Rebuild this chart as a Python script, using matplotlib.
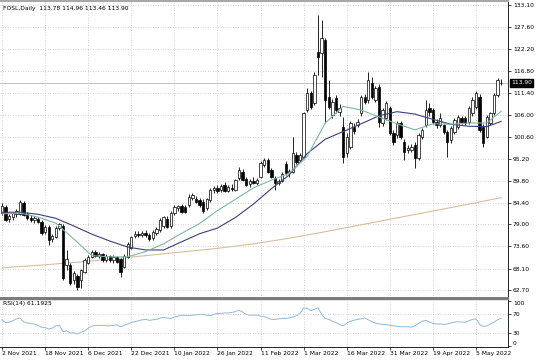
import matplotlib
matplotlib.use("Agg")
import matplotlib.pyplot as plt
from matplotlib.transforms import blended_transform_factory

# FOSL daily bars
opens = [81.7, 83.2, 80.3, 80.8, 81.5, 81.6, 84.3, 81.5, 80.7, 80.1,
         80.4, 79.7, 77.1, 78.4, 75.3, 76.0, 78.0, 78.6, 69.0, 69.0,
         65.3, 66.2, 65.3, 67.3, 69.6, 71.0, 72.1, 71.3, 71.6, 70.2,
         71.1, 70.1, 71.0, 70.4, 68.6, 71.0, 73.2, 76.1, 76.6, 76.4,
         76.9, 76.5, 75.6, 76.9, 77.6, 78.6, 80.3, 78.7, 81.7, 83.1,
         83.6, 83.4, 83.8, 85.6, 85.3, 85.0, 84.6, 83.0, 85.0, 87.5,
         88.0, 87.4, 88.8, 87.3, 88.0, 87.6, 90.4, 91.8, 90.2, 88.9,
         89.6, 89.3, 90.8, 93.6, 94.9, 92.4, 90.4, 89.3, 89.8, 93.8,
         91.6, 92.0, 96.2, 94.9, 95.7, 107.2, 111.3, 108.9, 121.6, 121.2,
         124.5, 110.5, 106.0, 110.1, 106.6, 103.0, 96.5, 98.2, 103.1, 103.5,
         106.4, 110.5, 109.7, 113.8, 109.7, 113.0, 103.9, 105.2, 107.6, 101.5,
         101.0, 103.9, 99.4, 97.3, 97.4, 98.6, 95.3, 100.6, 103.5, 107.6,
         107.2, 104.3, 103.5, 103.4, 101.9, 99.8, 101.9, 103.1, 105.2, 105.2,
         104.3, 106.4, 108.0, 110.5, 103.1, 100.6, 103.9, 106.4, 110.9, 113.78]
highs = [84.2, 83.8, 81.6, 82.1, 82.7, 85.0, 84.8, 82.0, 81.3, 81.0,
         80.9, 80.2, 78.8, 78.8, 76.6, 78.6, 79.4, 79.2, 72.7, 69.6,
         67.4, 66.8, 68.0, 70.6, 71.4, 72.8, 72.6, 72.2, 72.0, 71.6,
         71.5, 71.4, 71.3, 70.8, 71.6, 74.6, 76.2, 77.3, 77.4, 77.4,
         77.5, 77.0, 77.6, 78.3, 80.5, 81.1, 81.0, 82.3, 83.7, 83.9,
         84.1, 83.9, 86.4, 86.7, 85.9, 85.6, 85.2, 85.6, 88.0, 88.4,
         88.6, 89.0, 89.4, 88.8, 88.9, 90.2, 93.2, 92.6, 90.6, 90.2,
         90.6, 90.4, 94.6, 95.4, 95.3, 92.8, 90.9, 90.2, 91.9, 94.6,
         92.6, 100.6, 96.8, 96.6, 106.8, 112.6, 111.8, 116.7, 130.6, 129.4,
         125.0, 114.6, 110.0, 110.8, 108.6, 105.5, 101.5, 104.6, 104.0, 105.0,
         111.0, 111.2, 116.7, 115.4, 113.2, 113.6, 107.6, 109.5, 108.3, 102.3,
         104.6, 104.5, 100.0, 98.5, 98.8, 99.2, 101.5, 102.8, 109.7, 109.0,
         107.8, 105.0, 106.4, 103.8, 102.3, 103.2, 105.3, 106.0, 105.8, 105.8,
         108.2, 110.3, 111.8, 111.2, 103.8, 106.0, 106.8, 111.4, 115.0, 114.96]
lows = [81.3, 79.8, 79.5, 80.2, 80.9, 81.2, 81.0, 80.2, 79.6, 79.4,
        79.3, 76.4, 76.7, 73.9, 74.6, 75.6, 77.6, 65.3, 67.7, 64.0,
        64.2, 62.8, 63.3, 67.0, 69.2, 70.6, 70.9, 70.6, 69.7, 69.8,
        69.8, 69.5, 69.5, 66.1, 68.2, 70.6, 72.9, 75.6, 76.0, 75.8,
        76.0, 75.0, 75.2, 76.4, 77.2, 78.2, 78.0, 78.2, 81.3, 82.3,
        81.8, 81.7, 83.4, 85.0, 84.2, 83.3, 81.7, 82.6, 84.6, 86.8,
        86.8, 87.0, 86.9, 86.9, 87.2, 87.2, 90.0, 89.6, 88.4, 88.2,
        89.0, 88.7, 90.4, 93.2, 91.7, 90.4, 87.5, 88.6, 89.4, 91.2,
        90.8, 91.6, 93.8, 94.4, 95.3, 106.6, 107.5, 108.4, 115.8, 115.4,
        103.9, 107.5, 105.2, 106.5, 105.8, 94.1, 95.5, 97.5, 101.4, 103.0,
        105.8, 108.6, 109.0, 110.0, 109.2, 103.0, 103.2, 104.8, 101.0, 98.6,
        100.2, 100.0, 94.9, 96.5, 96.9, 92.8, 94.8, 100.0, 103.0, 105.8,
        103.8, 102.8, 103.0, 101.4, 95.7, 99.0, 101.4, 102.6, 103.8, 103.4,
        103.8, 105.8, 107.5, 101.8, 98.2, 100.2, 103.4, 106.0, 110.4, 113.46]
closes = [83.6, 80.1, 81.0, 81.7, 82.2, 84.6, 81.4, 80.6, 80.2, 80.6,
          79.7, 76.8, 78.3, 75.1, 76.1, 78.2, 79.0, 65.8, 70.4, 64.5,
          66.9, 63.6, 67.7, 70.2, 71.0, 72.2, 71.3, 71.8, 70.2, 71.1,
          70.1, 71.0, 69.8, 67.3, 71.3, 74.2, 75.9, 76.6, 76.3, 77.0,
          76.3, 75.4, 77.2, 77.9, 80.1, 80.8, 78.4, 81.9, 83.3, 83.5,
          82.1, 82.1, 85.8, 86.3, 84.6, 83.8, 82.2, 85.2, 87.5, 87.9,
          87.3, 88.4, 87.3, 88.2, 87.7, 89.9, 92.4, 89.9, 88.7, 89.6,
          89.3, 90.0, 94.1, 94.9, 92.0, 90.8, 89.2, 89.8, 91.5, 91.6,
          92.2, 96.5, 94.5, 96.1, 106.4, 111.3, 108.0, 115.8, 120.4, 124.9,
          109.7, 108.0, 109.3, 107.2, 107.8, 95.7, 100.6, 103.9, 102.0, 104.3,
          110.5, 109.3, 114.6, 110.5, 112.6, 104.2, 107.2, 108.9, 101.5, 99.4,
          103.9, 100.6, 96.9, 97.8, 98.2, 95.3, 101.0, 102.3, 107.2, 106.8,
          104.3, 103.5, 105.2, 101.9, 99.4, 102.7, 104.7, 105.5, 104.3, 103.9,
          107.6, 109.7, 111.3, 102.3, 99.0, 105.5, 106.4, 110.9, 114.6, 113.90]

# moving averages as drawn, sampled every 5 bars (+ last bar)
ma_bars = [0, 5, 10, 15, 20, 25, 30, 35, 40, 45, 50, 55, 60, 65, 70,
           75, 80, 85, 90, 95, 100, 105, 110, 115, 120, 125, 130, 135, 139]
ma_fast = [81.6, 81.8, 80.8, 79.3, 75.4, 71.3, 71.0, 71.0, 72.3, 74.2,
           76.8, 79.2, 82.4, 85.2, 88.0, 89.9, 91.6, 95.8, 104.0, 108.1,
           107.2, 105.5, 103.8, 102.3, 103.8, 103.7, 104.0, 104.0, 106.9]
ma_slow = [82.0, 82.0, 81.5, 80.5, 78.6, 76.6, 74.9, 73.4, 72.7, 72.7,
           74.7, 76.7, 78.1, 80.7, 84.0, 87.8, 91.2, 96.5, 100.0, 101.9,
           103.8, 105.8, 106.8, 106.2, 104.9, 103.7, 103.2, 103.1, 104.4]
ma200_bars = [0, 10, 20, 30, 40, 50, 60, 70, 80, 90, 100, 110, 120, 130, 139]
ma200 = [68.3, 68.9, 69.6, 70.4, 71.3, 72.2, 73.1, 74.2, 75.6, 77.2,
         78.9, 80.6, 82.3, 84.0, 85.6]

# RSI(14) per bar
rsi = [58, 52, 53, 56, 60, 62, 54, 51, 50, 49, 46, 42, 41, 38, 40, 45, 46, 32, 34, 29,
       30, 27, 31, 34, 40, 44, 46, 46, 46, 45, 45, 46, 47, 43, 46, 49, 52, 54, 56, 58,
       59, 57, 58, 59, 62, 63, 62, 61, 64, 66, 68, 68, 67, 68, 69, 70, 70, 68, 67, 70,
       72, 72, 73, 73, 74, 76, 79, 75, 70, 68, 68, 68, 66, 65, 62, 59, 59, 60, 61, 61,
       62, 64, 67, 72, 84, 83, 78, 81, 84, 70, 61, 59, 55, 52, 48, 45, 51, 55, 57, 59,
       60, 62, 58, 54, 51, 49, 48, 48, 46, 45, 44, 43, 43, 43, 42, 45, 50, 55, 57, 53,
       50, 49, 49, 48, 49, 51, 53, 54, 53, 53, 56, 59, 60, 48, 43, 45, 49, 53, 58, 61.19]

price_ticks = [133.10, 127.60, 122.20, 116.80, 111.40, 106.00, 100.60,
               95.20, 89.80, 84.40, 79.00, 73.60, 68.10, 62.70]
date_bars = [0, 12, 24, 36, 48, 60, 72, 84, 96, 108, 120, 132]
date_labels = ["2 Nov 2021", "18 Nov 2021", "6 Dec 2021", "22 Dec 2021",
               "10 Jan 2022", "26 Jan 2022", "11 Feb 2022", "1 Mar 2022",
               "16 Mar 2022", "31 Mar 2022", "19 Apr 2022", "5 May 2022"]
last_price = 113.90

fs = 4.3
grid_kw = dict(color="#c4c4c4", linestyle=(0, (1, 2)), linewidth=0.6)

fig = plt.figure(figsize=(5.36, 3.61), dpi=100)
ax = fig.add_axes([0, 1 - 298 / 361, 508 / 536, 297 / 361])
ax2 = fig.add_axes([0, 1 - 347 / 361, 508 / 536, 48 / 361])

n = len(closes)
idx = list(range(n))

# candles: wicks first, bodies on top
ax.vlines(idx, lows, highs, color="black", linewidth=0.6, zorder=3)
bottoms = [min(o, c) for o, c in zip(opens, closes)]
heights = [max(abs(c - o), 0.15) for o, c in zip(opens, closes)]
colors = ["white" if c >= o else "black" for o, c in zip(opens, closes)]
ax.bar(idx, heights, bottom=bottoms, width=0.66, color=colors,
       edgecolor="black", linewidth=0.5, zorder=4)

ax.plot(ma200_bars, ma200, color="#d9bd9c", linewidth=0.8, zorder=2)
ax.plot(ma_bars, ma_slow, color="#3b3f78", linewidth=0.8, zorder=5)
ax.plot(ma_bars, ma_fast, color="#7fb5a6", linewidth=0.8, zorder=5)

ax.axhline(last_price, color="#b8b8b8", linewidth=0.6, zorder=1)

ax.set_xlim(-0.56, 140.9)
ax.set_ylim(60.85, 134.09)
ax.set_yticks(price_ticks)
ax.set_yticklabels(["%.2f" % p for p in price_ticks])
ax.yaxis.tick_right()
ax.set_xticks(date_bars)
ax.tick_params(axis="x", length=0, labelbottom=False)
ax.tick_params(axis="y", labelsize=fs, length=2, width=0.5, pad=1.5)
ax.grid(True, **grid_kw)
ax.set_axisbelow(True)

tr = blended_transform_factory(ax.transAxes, ax.transData)
ax.text(1.006, last_price, "%.2f" % last_price, transform=tr, fontsize=fs,
        color="white", va="center", ha="left", zorder=10,
        bbox=dict(facecolor="black", edgecolor="black", pad=0.8))
ax.text(0.006, 0.976, "FOSL,Daily  113.78 114.96 113.46 113.90",
        transform=ax.transAxes, fontsize=fs, va="center", ha="left")

# RSI panel
ax2.plot(idx, rsi, color="#8fb9d9", linewidth=0.7)
ax2.set_xlim(-0.56, 140.9)
ax2.set_ylim(-1.1, 103.3)
ax2.set_yticks([0, 30, 70, 100])
ax2.set_yticklabels(["0", "30", "70", "100"])
ax2.yaxis.tick_right()
ax2.tick_params(axis="y", labelsize=fs, length=2, width=0.5, pad=1.5)
ylabs = ax2.get_yticklabels()
ylabs[0].set_va("bottom")
ylabs[-1].set_va("top")
ax2.set_xticks(date_bars)
ax2.set_xticklabels(date_labels, ha="left")
ax2.tick_params(axis="x", labelsize=fs, length=2, width=0.5, pad=1)
ax2.grid(True, axis="x", **grid_kw)
for lvl in (30, 70):
    ax2.axhline(lvl, **grid_kw)
ax2.text(0.006, 0.9, "RSI(14) 61.1925", transform=ax2.transAxes,
         fontsize=fs, va="center", ha="left")

for a in (ax, ax2):
    for s in a.spines.values():
        s.set_linewidth(0.6)
    a.spines["left"].set_visible(False)
ax.spines["top"].set_color("#a8a8a8")
ax.spines["top"].set_linewidth(1.5)
ax.spines["bottom"].set_color("#7a7a7a")
ax.spines["bottom"].set_linewidth(1.4)
ax2.spines["top"].set_color("#7a7a7a")
ax2.spines["top"].set_linewidth(1.0)

fig.savefig("out.png", dpi=100)
